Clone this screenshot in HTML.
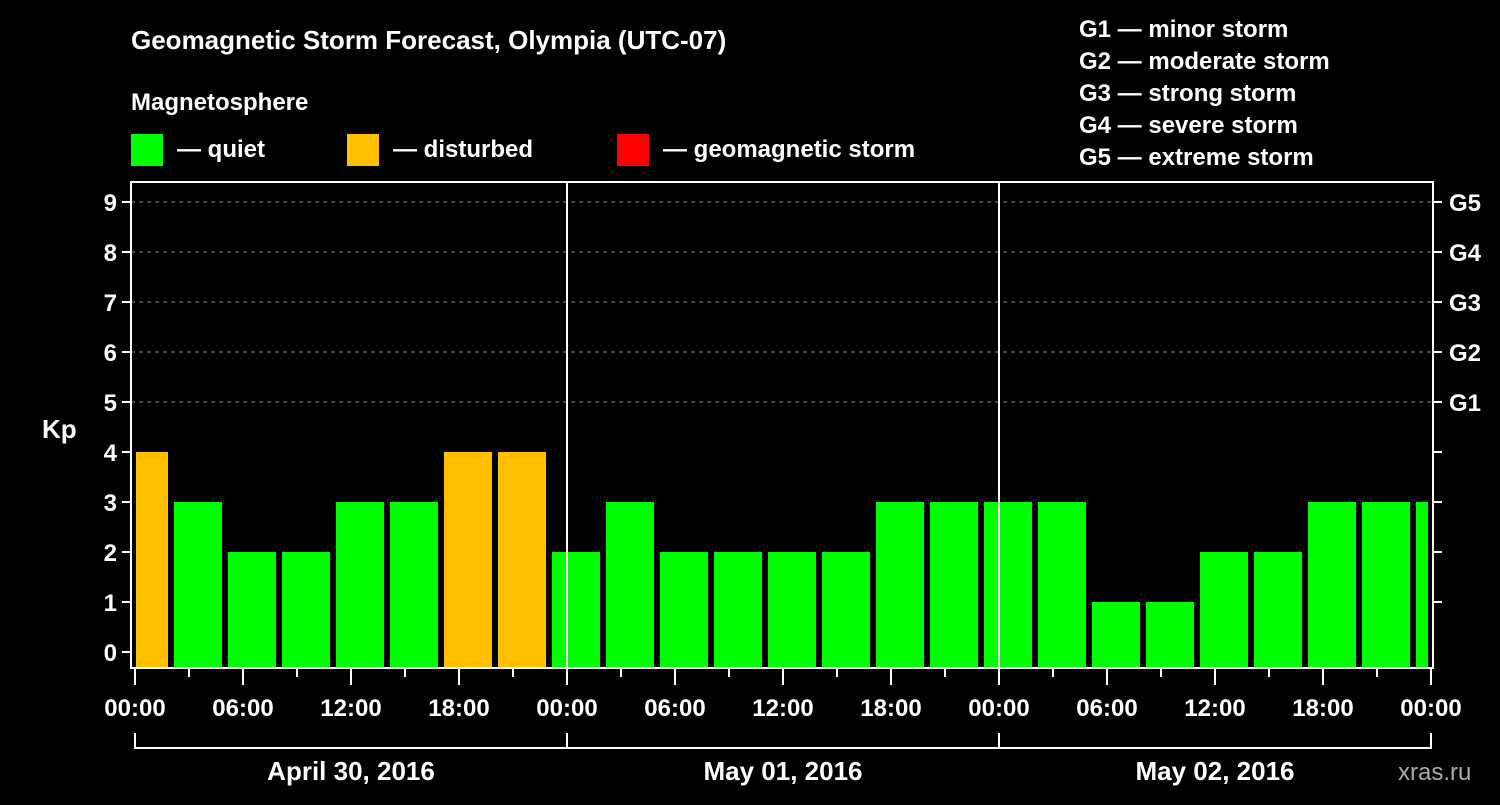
<!DOCTYPE html>
<html><head><meta charset="utf-8"><style>
body{margin:0;background:#000;width:1500px;height:800px;overflow:hidden}
text{font-family:"Liberation Sans",sans-serif;font-weight:bold;fill:#fff}
</style></head><body>
<svg width="1500" height="800">
<text x="131" y="49" font-size="26">Geomagnetic Storm Forecast, Olympia (UTC-07)</text>
<text x="131" y="110" font-size="24">Magnetosphere</text>
<g><rect x="131" y="134" width="32" height="32" fill="#00ff00"/><text x="177" y="157" font-size="24">— quiet</text></g>
<g><rect x="347" y="134" width="32" height="32" fill="#ffc000"/><text x="393" y="157" font-size="24">— disturbed</text></g>
<g><rect x="617" y="134" width="32" height="32" fill="#ff0000"/><text x="663" y="157" font-size="24">— geomagnetic storm</text></g>
<g font-size="24">
<text x="1079" y="37">G1 — minor storm</text><text x="1079" y="69">G2 — moderate storm</text><text x="1079" y="101">G3 — strong storm</text><text x="1079" y="133">G4 — severe storm</text><text x="1079" y="165">G5 — extreme storm</text></g>
<text x="42" y="438" font-size="26">Kp</text>
<text x="1398" y="780" font-size="24" fill="#aaa" style="fill:#aaa;font-weight:normal">xras.ru</text>
<g id="plot"></g>
</svg>
<script>
const kpValues=[4,3,2,2,3,3,4,4,2,3,2,2,2,2,3,3,3,3,1,1,2,2,3,3,3];
const yTicks=[0,1,2,3,4,5,6,7,8,9];
const gLabels=["G1","G2","G3","G4","G5"];
const xTickLabels=["00:00","06:00","12:00","18:00","00:00","06:00","12:00","18:00","00:00","06:00","12:00","18:00","00:00"];
const dayLabels=["April 30, 2016","May 01, 2016","May 02, 2016"];
const NS="http://www.w3.org/2000/svg";
const L=131,R=1433,T=182,B=668,X0=135,PXH=18;
const x=h=>X0+h*PXH, y=v=>652-v*50;
const g=document.getElementById('plot');
function mk(t,a,txt){const e=document.createElementNS(NS,t);for(const k in a)e.setAttribute(k,a[k]);if(txt!==undefined)e.textContent=txt;g.appendChild(e);return e;}
const clip=document.createElementNS(NS,'clipPath');clip.setAttribute('id','pc');
const cr=document.createElementNS(NS,'rect');cr.setAttribute('x',L+5);cr.setAttribute('y',T);cr.setAttribute('width',R-L-10);cr.setAttribute('height',B-T);clip.appendChild(cr);g.appendChild(clip);
yTicks.forEach(v=>{if(v>=5){const l=mk('line',{x1:L,x2:R,y1:y(v),y2:y(v),stroke:'#888','stroke-dasharray':'4,4'});}});
const bars=document.createElementNS(NS,'g');bars.setAttribute('clip-path','url(#pc)');g.appendChild(bars);
kpValues.forEach((v,i)=>{const h0=-5/6+3*i;const r=document.createElementNS(NS,'rect');
r.setAttribute('x',x(h0));r.setAttribute('width',48);r.setAttribute('y',y(v));r.setAttribute('height',B-y(v));
r.setAttribute('fill',v>=5?'#ff0000':v>=4?'#ffc000':'#00ff00');


bars.appendChild(r);});
[24,48].forEach(h=>{const l=mk('line',{x1:x(h),x2:x(h),y1:T,y2:B,stroke:'#fff','stroke-width':2});});
const f=mk('rect',{x:L,y:T,width:R-L,height:B-T,fill:'none',stroke:'#fff','stroke-width':2});
yTicks.forEach(v=>{mk('line',{x1:L-9,x2:L,y1:y(v),y2:y(v),stroke:'#fff','stroke-width':2});
const t=mk('text',{x:L-14,y:y(v)+9,'font-size':24,'text-anchor':'end'},v);
if(v>0)mk('line',{x1:R,x2:R+9,y1:y(v),y2:y(v),stroke:'#fff','stroke-width':2});});
gLabels.forEach((s,i)=>{const t=mk('text',{x:1449,y:y(5+i)+9,'font-size':24},s);});
for(let h=0;h<=72;h+=3){const maj=h%6==0;mk('line',{x1:x(h),x2:x(h),y1:B,y2:B+(maj?17:9),stroke:'#fff','stroke-width':2});}
xTickLabels.forEach((s,i)=>{const t=mk('text',{x:x(i*6),y:716,'font-size':24,'text-anchor':'middle'},s);});
mk('line',{x1:x(0),x2:x(72),y1:748,y2:748,stroke:'#fff','stroke-width':2});
[0,24,48,72].forEach(h=>mk('line',{x1:x(h),x2:x(h),y1:733,y2:749,stroke:'#fff','stroke-width':2}));
dayLabels.forEach((s,i)=>{const t=mk('text',{x:x(12+24*i),y:780,'font-size':26,'text-anchor':'middle'},s);});
</script>
</body></html>
